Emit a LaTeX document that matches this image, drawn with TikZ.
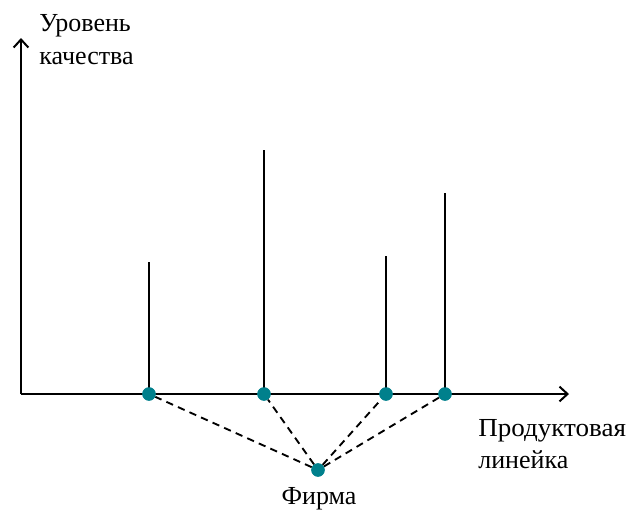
\documentclass[tikz,border=0pt]{standalone}
\usepackage{fontspec}
\setmainfont{Liberation Serif}
\usetikzlibrary{arrows.meta}
\definecolor{dotteal}{HTML}{00808C}
\begin{document}
\begin{tikzpicture}[x=0.75pt,y=-0.75pt,
  axis/.style={line width=1.5pt,-{Straight Barb[length=6pt,width=11pt,line width=1.5pt]}},
  bar/.style={line width=1.3pt},
  link/.style={line width=1.4pt,dash pattern=on 5.5pt off 4pt},
  dot/.style={circle,fill=dotteal,inner sep=0pt,minimum size=10pt},
  lbl/.style={font=\fontsize{19.5}{23}\selectfont,anchor=base west,inner sep=0pt}]
  \useasboundingbox (0,0) rectangle (641,511);
  % axes
  \coordinate (o) at (21,394);
  \coordinate (ytip) at (21,38);
  \coordinate (xtip) at (569,394);
  \draw[axis] (o) -- (ytip);
  \draw[axis] (o) -- (xtip);
  % products on the line
  \node[dot] (p1) at (149,394) {};
  \node[dot] (p2) at (264,394) {};
  \node[dot] (p3) at (386,394) {};
  \node[dot] (p4) at (445,394) {};
  \coordinate (t1) at (149,262);
  \coordinate (t2) at (264,150);
  \coordinate (t3) at (386,256);
  \coordinate (t4) at (445,193);
  \foreach \i in {1,...,4} \draw[bar] (p\i.center) -- (t\i);
  % firm
  \node[dot] (f) at (318,470) {};
  \foreach \i in {1,...,4} \draw[link] (f) -- (p\i);
  \foreach \i in {1,...,4} \node[dot] at (p\i) {};
  \node[dot] at (f) {};
  % labels
  \node[lbl] (yl1) at (39,31) {Уровень};
  \node[lbl] (yl2) at (39,64) {качества};
  \node[lbl,xscale=1.04] (xl1) at (478,436) {Продуктовая};
  \node[lbl] (xl2) at (478,468) {линейка};
  \node[lbl,anchor=base] (fl) at (319,504) {Фирма};
\end{tikzpicture}
\end{document}
